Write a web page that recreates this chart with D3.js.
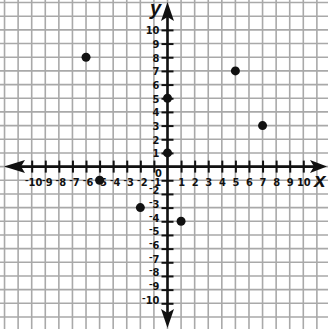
<!DOCTYPE html>
<html>
<head>
<meta charset="utf-8">
<script src="https://cdn.jsdelivr.net/npm/d3@7"></script>
<style>
  body { margin: 0; background: #fff; }
  svg { display: block; }
  text { font-family: "Liberation Sans Narrow", "DejaVu Sans Condensed", sans-serif; font-weight: bold; }
</style>
</head>
<body>
<div id="chart"></div>
<script>
// plotted points
var pointX = [-6, -5, -2, 0, 0, 1, 5, 7];
var pointY = [8, -1, -3, 5, 1, -4, 7, 3];

// axis ticks and grid
var tickVals = [-10, -9, -8, -7, -6, -5, -4, -3, -2, -1, 1, 2, 3, 4, 5, 6, 7, 8, 9, 10];
// y label at -1 is left off (it would sit on the x label row)
var yLabelVals = [-10, -9, -8, -7, -6, -5, -4, -3, -2, 1, 2, 3, 4, 5, 6, 7, 8, 9, 10];
var gridVals = [-12, -11, -10, -9, -8, -7, -6, -5, -4, -3, -2, -1, 0, 1, 2, 3, 4, 5, 6, 7, 8, 9, 10, 11, 12];

var width = 328, height = 329;

var x = d3.scaleLinear().domain([-10, 10]).range([31.7, 303.3]);
var y = d3.scaleLinear().domain([-10, 10]).range([303.3, 29.9]);
var x0 = x(0), y0 = y(0);

var svg = d3.select('#chart')
  .append('svg')
  .attr('width', width)
  .attr('height', height);

svg.append('rect').attr('width', width).attr('height', height).attr('fill', '#fff');

// grid
var grid = svg.append('g').attr('stroke', '#a9a9a9').attr('stroke-width', 1.6);
grid.selectAll('.vl').data(gridVals).join('line')
  .attr('class', 'vl')
  .attr('x1', d => x(d)).attr('x2', d => x(d))
  .attr('y1', 0).attr('y2', height);
grid.selectAll('.hl').data(gridVals).join('line')
  .attr('class', 'hl')
  .attr('y1', d => y(d)).attr('y2', d => y(d))
  .attr('x1', 0).attr('x2', width);

// label with raised minus sign
function labelText(sel, v) {
  sel.text(null);
  if (v < 0) {
    sel.append('tspan').attr('font-size', 8).attr('dy', -3).text('\u2013');
    sel.append('tspan').attr('dy', 3).text(Math.abs(v));
  } else {
    sel.text(v);
  }
}

// x axis
var xAxis = svg.append('g')
  .attr('transform', 'translate(0,' + y0 + ')')
  .call(d3.axisBottom(x).tickValues(tickVals).tickSize(6));
xAxis.select('.domain').remove();
xAxis.selectAll('.tick line').attr('y1', -6).attr('y2', 6).attr('stroke', '#111').attr('stroke-width', 2);
xAxis.selectAll('.tick text')
  .attr('y', 19).attr('dy', 0)
  .attr('font-size', 11).attr('fill', '#111')
  .attr('font-family', null)
  .each(function (d) {
    var t = d3.select(this);
    labelText(t, d);
    if (d < 0) t.attr('dx', 1.5);
  });

// y axis
var yAxis = svg.append('g')
  .attr('transform', 'translate(' + x0 + ',0)')
  .call(d3.axisLeft(y).tickValues(tickVals).tickSize(6));
yAxis.select('.domain').remove();
yAxis.selectAll('.tick line').attr('x1', -6).attr('x2', 6).attr('stroke', '#111').attr('stroke-width', 2);
yAxis.selectAll('.tick text')
  .attr('x', -8).attr('dy', '0.36em')
  .attr('font-size', 11).attr('fill', '#111')
  .attr('font-family', null)
  .each(function (d) {
    if (yLabelVals.indexOf(d) < 0) d3.select(this).remove();
    else labelText(d3.select(this), d);
  });

// axis lines
svg.append('line').attr('x1', 10).attr('x2', 318).attr('y1', y0).attr('y2', y0)
  .attr('stroke', '#111').attr('stroke-width', 2.6);
svg.append('line').attr('x1', x0).attr('x2', x0).attr('y1', 10).attr('y2', 320)
  .attr('stroke', '#111').attr('stroke-width', 2.6);

// arrow heads
var arrows = [
  [[4, y0], [25, y0 - 6.5], [21, y0], [25, y0 + 6.5]],
  [[327, y0], [310, y0 - 6.5], [314, y0], [310, y0 + 6.5]],
  [[x0, 2], [x0 - 6.5, 21], [x0, 17], [x0 + 6.5, 21]],
  [[x0, 328], [x0 - 6.5, 309], [x0, 313], [x0 + 6.5, 309]]
];
svg.selectAll('.arrow').data(arrows).join('path')
  .attr('class', 'arrow')
  .attr('d', d => 'M' + d.join('L') + 'Z')
  .attr('fill', '#111');

// origin label
svg.append('text').attr('x', x0 - 9).attr('y', y0 + 10)
  .attr('text-anchor', 'middle').attr('font-size', 11).attr('fill', '#111').text('0');

// axis names
svg.append('text').attr('x', 314).attr('y', 187)
  .attr('font-size', 21).attr('font-style', 'italic').attr('fill', '#111')
  .style('font-family', '"Liberation Sans", sans-serif').text('x');
svg.append('text').attr('x', 150).attr('y', 15)
  .attr('font-size', 20).attr('font-style', 'italic').attr('fill', '#111')
  .style('font-family', '"Liberation Sans", sans-serif').text('y');

// points
svg.selectAll('.pt').data(pointX).join('circle')
  .attr('class', 'pt')
  .attr('cx', (d, i) => x(d))
  .attr('cy', (d, i) => y(pointY[i]))
  .attr('r', 4.5)
  .attr('fill', '#111');
</script>
</body>
</html>
